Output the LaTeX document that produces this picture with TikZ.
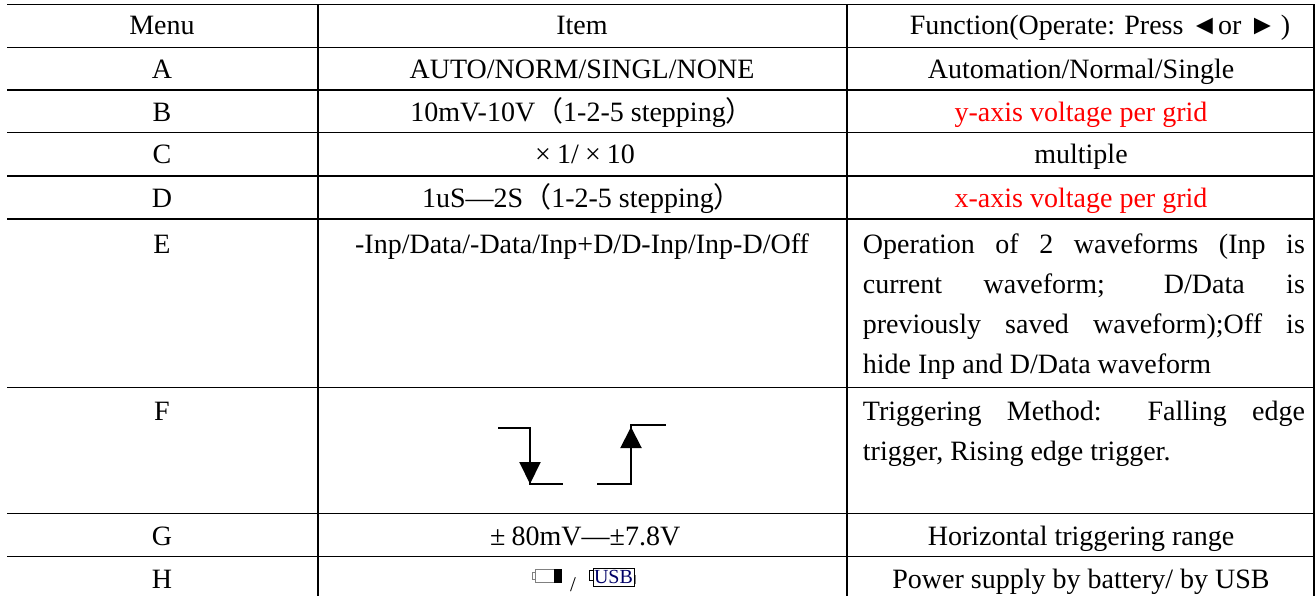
\documentclass[tikz,border=0pt]{standalone}
\usepackage{fontspec}
\setmainfont{Liberation Serif}
\newfontfamily\cjk{Noto Sans CJK SC}
\usetikzlibrary{arrows.meta}
\definecolor{gridred}{RGB}{255,0,0}

\tikzset{
  rule/.style={line width=1.5pt},
  cell/.style={anchor=base, inner sep=0pt},
  para/.style={anchor=base west, inner sep=0pt, text width=442pt, align=justify},
  edge/.style={line width=2pt},
}

\begin{document}
\begin{tikzpicture}[x=1pt, y=-1pt, font=\fontsize{28}{40}\selectfont]
    \useasboundingbox (0,0) rectangle (1315,596);

    % Table rules
    \foreach \r in {4.5,47.7,89.8,132.6,176,219,387.5,513.5,556.5}
        \draw[rule] (7,\r) -- (1315,\r);
    \foreach \c in {318,847,1314.2}
        \draw[rule] (\c,4.5) -- (\c,596);

    % Header
    \node[cell] (menu) at (162,34.5) {Menu};
    \node[cell] (item) at (582,34.5) {Item};
    \node[cell] (func) at (1100,34.5) {Function(Operate: Press ◄or ►\,)};

    % Menu letters
    \node[cell] (ma) at (162,79) {A};
    \node[cell] (mb) at (162,121.2) {B};
    \node[cell] (mc) at (162,164) {C};
    \node[cell] (md) at (162,207.4) {D};
    \node[cell] (me) at (162,254) {E};
    \node[cell] (mf) at (162,420) {F};
    \node[cell] (mg) at (162,545) {G};
    \node[cell] (mh) at (162,588) {H};

    % Items
    \node[cell] (ia) at (582,79) {AUTO/NORM/SINGL/NONE};
    \node[cell] (ib) at (582,121.2) {10mV-10V{\cjk （}1-2-5 stepping{\cjk ）}};
    \node[cell] (ic) at (582,164) {\makebox[1em]{×}1/\makebox[1em]{×}10};
    \node[cell] (id) at (582,207.4) {1uS—2S{\cjk （}1-2-5 stepping{\cjk ）}};
    \node[cell] (ie) at (582,254) {-Inp/Data/-Data/Inp+D/D-Inp/Inp-D/Off};
    \node[cell] (ig) at (582,545) {\makebox[1em]{±}80mV—±7.8V};

    % Falling edge
    \draw[edge] (498,427.7) -- (530,427.7) -- (530,484) -- (563,484);
    \draw[edge, -{Triangle[width=21pt,length=22pt]}] (530,427.7) -- (530,484);
    % Rising edge
    \draw[edge] (597,484) -- (631,484) -- (631,425) -- (666,425);
    \draw[edge, -{Triangle[width=21pt,length=21pt]}] (631,484) -- (631,427);

    % Battery
    \draw[gray, line width=0.8pt] (532,572) rectangle (535.5,579.5);
    \draw[gray, line width=0.8pt] (535.5,569) rectangle (561.5,582.5);
    \fill[black] (554,569) rectangle (561.5,582.5);
    \node[cell, font=\fontsize{21}{21}\selectfont] (slash) at (573,591) {/};
    % USB
    \draw[line width=1pt] (593,570.5) -- (589.5,570.5) -- (589.5,580.5) -- (593,580.5);
    \node[draw, line width=1pt, minimum width=41pt, minimum height=17.5pt, inner sep=0pt,
          font=\fontsize{20}{20}\selectfont, text=blue!40!black] (usb) at (613.5,577.4) {USB};
    \draw[gray, line width=1pt] (635,575) -- (635,584);

    % Functions
    \node[cell] (fa) at (1081,79) {Automation/Normal/Single};
    \node[cell, text=gridred] (fb) at (1081,121.2) {y-axis voltage per grid};
    \node[cell] (fc) at (1081,164) {multiple};
    \node[cell, text=gridred] (fd) at (1081,207.4) {x-axis voltage per grid};
    \node[para] (fe) at (862.7,254) {\hyphenpenalty=10000 Operation of 2 waveforms (Inp is\linebreak
        current waveform; D/Data is\linebreak previously saved waveform);Off is\linebreak
        hide Inp and D/Data waveform};
    \node[para] (ff) at (862.7,420) {\hyphenpenalty=10000 Triggering Method: Falling edge\linebreak
        trigger, Rising edge trigger.};
    \node[cell] (fg) at (1081,545) {Horizontal triggering range};
    \node[cell] (fh) at (1081,588) {Power supply by battery/ by USB};
\end{tikzpicture}
\end{document}
